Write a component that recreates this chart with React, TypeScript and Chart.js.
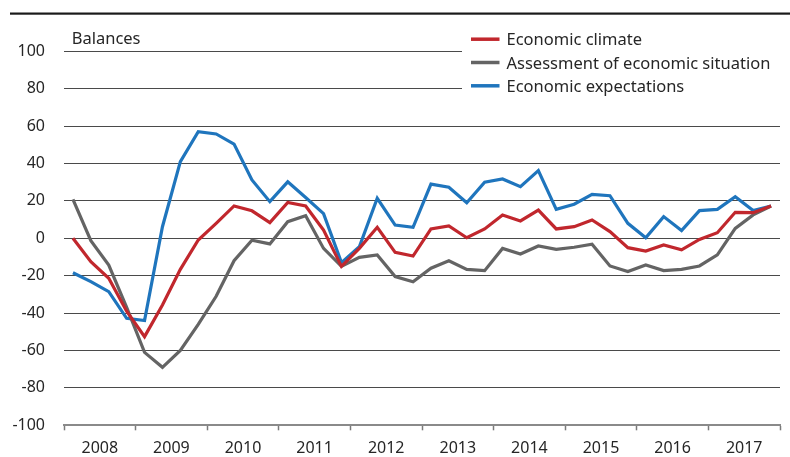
import React, { useEffect, useRef } from "react";
import { Chart, registerables } from "chart.js";

Chart.register(...registerables);

// ---- Data ----
const years = ["2008", "2009", "2010", "2011", "2012", "2013", "2014", "2015", "2016", "2017"];
const quarterNames = ["Q1", "Q2", "Q3", "Q4"];
const quarters = years.flatMap((y) => quarterNames.map((q) => `${y} ${q}`));

const economicClimate = [
  0, -12.5, -21.4, -39, -52.6, -35.7, -16.6, -0.9,
  8, 17.3, 14.7, 8.4, 19.2, 17.3, 4.4, -15,
  -5.4, 5.9, -7.5, -9.5, 5, 6.6, 0.3, 5,
  12.5, 9.3, 15.1, 5, 6.2, 9.8, 3.6, -5,
  -6.8, -3.6, -6.2, -0.6, 3, 13.9, 13.7, 17.3,
];
const economicSituation = [
  20.8, -1.3, -14.3, -37, -61, -69, -60, -46,
  -31, -12, -1, -3, 8.9, 12.1, -5.4, -15,
  -10.2, -8.9, -20.5, -23.2, -16, -12, -16.6, -17.3,
  -5.4, -8.4, -4.1, -5.9, -4.8, -3.2, -14.8, -17.8,
  -14.3, -17.3, -16.6, -14.8, -8.9, 5.3, 12.5, 17.3,
];
const economicExpectations = [
  -18.4, -23.2, -28.5, -42.8, -44, 6.2, 41, 57,
  55.8, 50.4, 31.2, 19.6, 30.2, 21.8, 13.2, -13,
  -4.5, 21.4, 7.1, 5.9, 29, 27.3, 19, 30,
  31.7, 27.6, 36.2, 15.5, 18.2, 23.5, 22.8, 8,
  0.3, 11.6, 4.1, 14.8, 15.5, 22.2, 14.8, 17.3,
];
const seriesNames = ["Economic climate", "Assessment of economic situation", "Economic expectations"];
const yTickValues = [-100, -80, -60, -40, -20, 0, 20, 40, 60, 80, 100];
const unitLabel = "Balances";

// ---- Styles ----
const COLORS = ["#c1272d", "#646464", "#1f75bd"];
const FONT = "'Noto Sans', 'Open Sans', sans-serif";
const TEXT = "#262626";

const toPoints = (arr: number[]) => arr.map((v, i) => ({ x: i + 0.5, y: v }));

const decorPlugin = {
  id: "decor",
  afterDraw(chart: any) {
    const ctx = chart.ctx as CanvasRenderingContext2D;
    ctx.save();
    // top rule
    ctx.fillStyle = "#1a1a1a";
    ctx.fillRect(10, 12.5, 780, 2.2);
    // unit label
    ctx.fillStyle = TEXT;
    ctx.font = `16.5px ${FONT}`;
    ctx.textBaseline = "alphabetic";
    ctx.textAlign = "left";
    ctx.fillText(unitLabel, 71.7, 43.7);
    // legend box
    ctx.fillStyle = "#ffffff";
    ctx.fillRect(462, 26, 322, 72);
    chart.data.datasets.forEach((ds: any, k: number) => {
      const cy = 39.2 + k * 23.3;
      ctx.strokeStyle = ds.borderColor;
      ctx.lineWidth = 3.5;
      ctx.lineCap = "butt";
      ctx.beginPath();
      ctx.moveTo(471, cy);
      ctx.lineTo(499.5, cy);
      ctx.stroke();
      ctx.fillStyle = TEXT;
      ctx.font = `16.5px ${FONT}`;
      ctx.fillText(ds.label, 506.5, cy + 6);
    });
    ctx.restore();
  },
};

export default function App() {
  const ref = useRef<HTMLCanvasElement | null>(null);

  useEffect(() => {
    if (!ref.current) return;
    const chart = new Chart(ref.current, {
      type: "line",
      data: {
        labels: quarters,
        datasets: [economicClimate, economicSituation, economicExpectations].map((arr, k) => ({
          label: seriesNames[k],
          data: toPoints(arr),
          borderColor: COLORS[k],
          backgroundColor: COLORS[k],
          borderWidth: 3.2,
          pointRadius: 0,
          tension: 0,
          fill: false,
        })),
      },
      options: {
        responsive: false,
        animation: false,
        devicePixelRatio: 1,
        layout: { padding: { top: 51.3, right: 10, bottom: 0, left: 0 } },
        plugins: {
          legend: { display: false },
          tooltip: { enabled: false },
          title: { display: false },
        },
        scales: {
          x: {
            type: "linear",
            min: 0,
            max: quarters.length,
            afterBuildTicks: (s: any) => {
              const t = [];
              for (let v = 0; v <= quarters.length; v += 2) t.push({ value: v });
              s.ticks = t;
            },
            afterFit: (s: any) => {
              s.height = 31.7;
            },
            ticks: {
              autoSkip: false,
              maxRotation: 0,
              minRotation: 0,
              padding: 9,
              color: TEXT,
              font: { family: FONT, size: 16 },
              callback: (v: any) => (v % 4 === 2 ? years[(v - 2) / 4] : ""),
            },
            grid: {
              drawOnChartArea: false,
              drawTicks: true,
              tickLength: 5,
              tickWidth: 1.5,
              tickColor: (c: any) =>
                c.tick && c.tick.value % 4 === 2 ? "rgba(0,0,0,0)" : "#7a7a7a",
            },
            border: { display: true, color: "#8a8a8a", width: 2 },
          },
          y: {
            type: "linear",
            min: -100,
            max: 100,
            afterBuildTicks: (s: any) => {
              s.ticks = yTickValues.map((v) => ({ value: v }));
            },
            afterFit: (s: any) => {
              s.width = 64;
            },
            ticks: {
              padding: 19,
              color: TEXT,
              font: { family: FONT, size: 16 },
            },
            grid: {
              drawTicks: false,
              lineWidth: 1,
              color: (c: any) =>
                c.tick && c.tick.value === -100 ? "rgba(0,0,0,0)" : "#4a4a4a",
            },
            border: { display: false },
          },
        },
      },
      plugins: [decorPlugin],
    });
    return () => chart.destroy();
  }, []);

  return (
    <div style={{ position: "absolute", left: 0, top: 0, width: 790, height: 457, background: "#fff" }}>
      <canvas ref={ref} width={790} height={457} />
    </div>
  );
}
